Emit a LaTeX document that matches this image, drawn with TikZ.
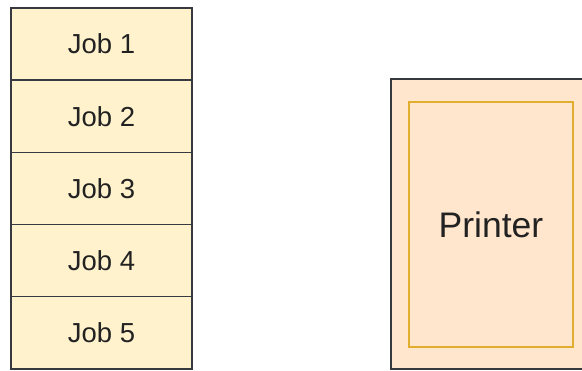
\documentclass[tikz,border=0pt]{standalone}
\usepackage{fontspec}
\setmainfont{Liberation Sans}
\definecolor{jobfill}{HTML}{FFF2CC}
\definecolor{prfill}{HTML}{FFE6CC}
\definecolor{edge}{HTML}{36393D}
\definecolor{gold}{HTML}{E2AE30}
\definecolor{txt}{HTML}{222222}
\begin{document}
\begin{tikzpicture}[x=1pt,y=-1pt,
  jobbox/.style={draw=edge,line width=1.4pt,fill=jobfill,minimum width=181pt,minimum height=72.2pt,inner sep=0pt,outer sep=0pt,anchor=north west,text=txt,font=\fontsize{27.5}{30}\selectfont},
  outerbox/.style={draw=edge,line width=1.6pt,fill=prfill,inner sep=0pt,outer sep=0pt},
  innerbox/.style={draw=gold,line width=2pt,inner sep=0pt,outer sep=0pt,text=txt,font=\fontsize{35.5}{38}\selectfont}]
\useasboundingbox (0,0) rectangle (582,371);
\node[jobbox] (j1) at (11,8) {Job 1};
\node[jobbox] (j2) at (11,80.2) {Job 2};
\node[jobbox] (j3) at (11,152.4) {Job 3};
\node[jobbox] (j4) at (11,224.6) {Job 4};
\node[jobbox] (j5) at (11,296.8) {Job 5};
\node[outerbox,minimum width=200pt,minimum height=290pt,anchor=north west] (outer) at (391,79) {};
\node[innerbox,minimum width=164pt,minimum height=245pt,anchor=north west] (inner) at (409,102) {Printer};
\end{tikzpicture}
\end{document}
